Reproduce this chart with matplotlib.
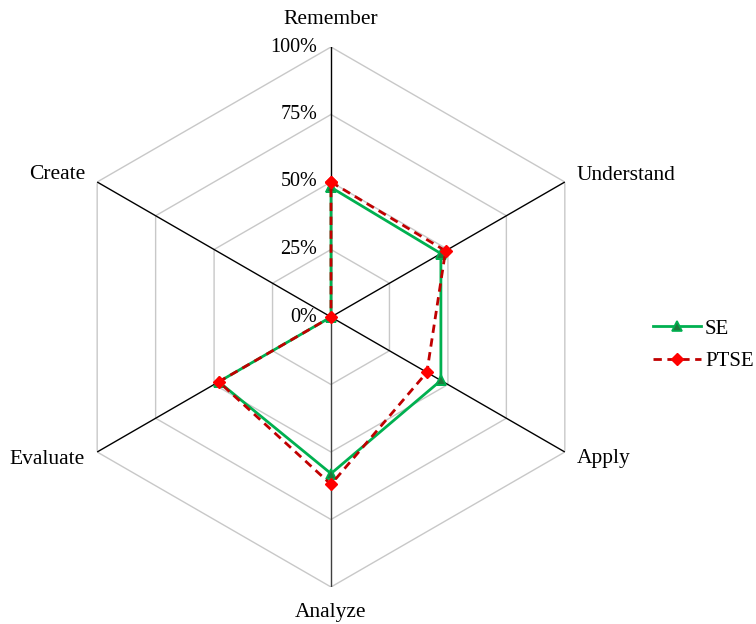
import numpy as np
import matplotlib.pyplot as plt

plt.rcParams['font.family'] = ['Liberation Serif', 'DejaVu Serif']

categories = ['Remember', 'Understand', 'Apply', 'Analyze', 'Evaluate', 'Create']
se = [48, 47, 47, 58, 48, 0]
ptse = [50, 49, 41, 62, 48, 0]
rticks = [0, 25, 50, 75, 100]
rlabels = ['0%', '25%', '50%', '75%', '100%']

n = len(categories)
theta = np.arange(n) * 2 * np.pi / n
closed = np.append(theta, theta[0])

fig = plt.figure(figsize=(7.56, 6.24), dpi=100)
ax = fig.add_axes([61 / 756, 37 / 624, 540 / 756, 540 / 624], projection='polar')
ax.set_theta_zero_location('N')
ax.set_theta_direction(-1)
ax.set_ylim(0, 100)
ax.grid(False)
ax.spines['polar'].set_visible(False)
ax.set_xticks([])
ax.set_yticks([])

# hexagon gridlines
for r in rticks[1:]:
    ax.plot(closed, [r] * (n + 1), color='#c8c8c8', lw=1.0, zorder=1)
# spokes
for i, t in enumerate(theta):
    ax.plot([t, t], [0, 100], color='#404040' if i == 3 else 'black', lw=1.0, zorder=2)

# radial tick labels to the left of the top spoke
for r, lab in zip(rticks, rlabels):
    ax.annotate(lab, xy=(0, r), xytext=(-14, 0), textcoords='offset pixels',
                ha='right', va='center', fontsize=14.5)

# category labels
offsets = [(0, 27, 'center'), (12, 7, 'left'), (12, -7, 'left'),
           (0, -25, 'center'), (-12, -7, 'right'), (-12, 7, 'right')]
for t, lab, (dx, dy, ha) in zip(theta, categories, offsets):
    ax.annotate(lab, xy=(t, 100), xytext=(dx, dy), textcoords='offset pixels',
                ha=ha, va='center', fontsize=15.5)

ax.plot(closed, se + se[:1], color='#00b050', lw=2.0, marker='^', ms=7,
        mfc='#1e7a3c', mec='#00b050', mew=1.2, label='SE', zorder=4)
ax.plot(closed, ptse + ptse[:1], color='#c00000', lw=2.0, ls=(0, (3, 2)),
        marker='D', ms=6.5, mfc='#ff0000', mec='#ff0000', label='PTSE', zorder=5)

fig.legend(loc='center left', bbox_to_anchor=(653 / 756, 1 - 345 / 624),
           frameon=False, fontsize=15, handlelength=2.3, labelspacing=0.6,
           handletextpad=0.2, borderpad=0, borderaxespad=0)

fig.savefig('out.png', dpi=100)
